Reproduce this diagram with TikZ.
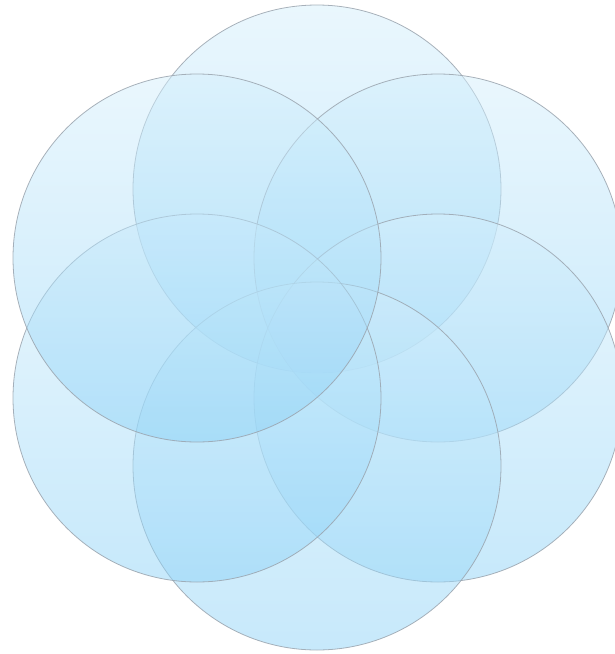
\documentclass[tikz,border=0pt]{standalone}
\begin{document}
\begin{tikzpicture}[x=1pt,y=-1pt,
  petal/.style={top color=petaltop,bottom color=petalbot,fill opacity=0.5,draw=petalline,draw opacity=0.85,line width=0.8pt}]
\definecolor{petaltop}{HTML}{D5EFFC}
\definecolor{petalbot}{HTML}{8FD3F7}
\definecolor{petalline}{HTML}{9AA4AE}
\useasboundingbox (0,0) rectangle (614,654);
\path[petal] (317,189) circle (184);
\path[petal] (438,258) circle (184);
\path[petal] (438,398) circle (184);
\path[petal] (317,466) circle (184);
\path[petal] (197,398) circle (184);
\path[petal] (197,258) circle (184);
\end{tikzpicture}
\end{document}
